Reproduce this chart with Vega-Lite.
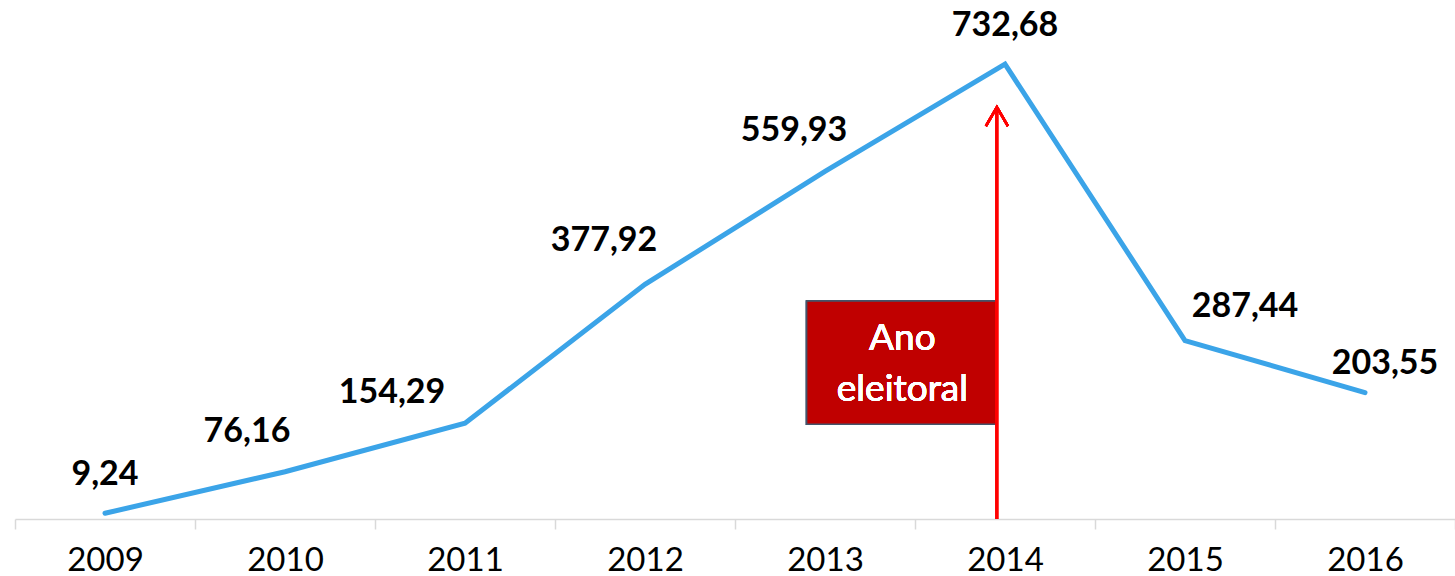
{
  "$schema": "https://vega.github.io/schema/vega-lite/v6.json",
  "width": 1440,
  "height": 519,
  "autosize": {"type": "none"},
  "padding": {"left": 15, "top": 0, "right": 0, "bottom": 57},
  "background": "white",
  "config": {
    "view": {"stroke": null},
    "font": "Lato",
    "locale": {"number": {"decimal": ",", "thousands": ".", "grouping": [3], "currency": ["R$", ""]}}
  },
  "data": {
    "values": [
      {"year": "2009", "value": 9.24},
      {"year": "2010", "value": 76.16},
      {"year": "2011", "value": 154.29},
      {"year": "2012", "value": 377.92},
      {"year": "2013", "value": 559.93},
      {"year": "2014", "value": 732.68},
      {"year": "2015", "value": 287.44},
      {"year": "2016", "value": 203.55}
    ]
  },
  "layer": [
    {
      "layer": [
        {
          "mark": {"type": "line", "color": "#3BA4E8", "strokeWidth": 5, "strokeCap": "round"},
          "encoding": {
            "x": {
              "field": "year", "type": "ordinal",
              "scale": {"paddingInner": 0, "paddingOuter": 0},
              "axis": {
                "title": null, "grid": false, "labelAngle": 0,
                "domainColor": "#D9D9D9", "domainWidth": 1.5,
                "tickColor": "#D9D9D9", "tickWidth": 1.5, "tickSize": 10, "tickBand": "extent",
                "labelFont": "Lato", "labelFontSize": 33, "labelColor": "#000000", "labelPadding": 15
              }
            },
            "y": {"field": "value", "type": "quantitative", "scale": {"domain": [0, 836], "nice": false}, "axis": null}
          }
        },
        {"transform": [{"filter": "datum.year == '2009'"}], "mark": {"type": "text", "font": "Lato", "fontSize": 34, "fontWeight": "bold", "color": "#000000", "align": "center", "baseline": "middle", "dx": 0, "dy": -38},
          "encoding": {"x": {"field": "year", "type": "ordinal"}, "y": {"field": "value", "type": "quantitative"}, "text": {"field": "value", "type": "quantitative", "format": ".2f"}}},
        {"transform": [{"filter": "datum.year == '2010'"}], "mark": {"type": "text", "font": "Lato", "fontSize": 34, "fontWeight": "bold", "color": "#000000", "align": "center", "baseline": "middle", "dx": -38, "dy": -40},
          "encoding": {"x": {"field": "year", "type": "ordinal"}, "y": {"field": "value", "type": "quantitative"}, "text": {"field": "value", "type": "quantitative", "format": ".2f"}}},
        {"transform": [{"filter": "datum.year == '2011'"}], "mark": {"type": "text", "font": "Lato", "fontSize": 34, "fontWeight": "bold", "color": "#000000", "align": "center", "baseline": "middle", "dx": -73, "dy": -30},
          "encoding": {"x": {"field": "year", "type": "ordinal"}, "y": {"field": "value", "type": "quantitative"}, "text": {"field": "value", "type": "quantitative", "format": ".2f"}}},
        {"transform": [{"filter": "datum.year == '2012'"}], "mark": {"type": "text", "font": "Lato", "fontSize": 34, "fontWeight": "bold", "color": "#000000", "align": "center", "baseline": "middle", "dx": -41, "dy": -43},
          "encoding": {"x": {"field": "year", "type": "ordinal"}, "y": {"field": "value", "type": "quantitative"}, "text": {"field": "value", "type": "quantitative", "format": ".2f"}}},
        {"transform": [{"filter": "datum.year == '2013'"}], "mark": {"type": "text", "font": "Lato", "fontSize": 34, "fontWeight": "bold", "color": "#000000", "align": "center", "baseline": "middle", "dx": -31, "dy": -40},
          "encoding": {"x": {"field": "year", "type": "ordinal"}, "y": {"field": "value", "type": "quantitative"}, "text": {"field": "value", "type": "quantitative", "format": ".2f"}}},
        {"transform": [{"filter": "datum.year == '2014'"}], "mark": {"type": "text", "font": "Lato", "fontSize": 34, "fontWeight": "bold", "color": "#000000", "align": "center", "baseline": "middle", "dx": 0, "dy": -38},
          "encoding": {"x": {"field": "year", "type": "ordinal"}, "y": {"field": "value", "type": "quantitative"}, "text": {"field": "value", "type": "quantitative", "format": ".2f"}}},
        {"transform": [{"filter": "datum.year == '2015'"}], "mark": {"type": "text", "font": "Lato", "fontSize": 34, "fontWeight": "bold", "color": "#000000", "align": "center", "baseline": "middle", "dx": 60, "dy": -34},
          "encoding": {"x": {"field": "year", "type": "ordinal"}, "y": {"field": "value", "type": "quantitative"}, "text": {"field": "value", "type": "quantitative", "format": ".2f"}}},
        {"transform": [{"filter": "datum.year == '2016'"}], "mark": {"type": "text", "font": "Lato", "fontSize": 34, "fontWeight": "bold", "color": "#000000", "align": "center", "baseline": "middle", "dx": 20, "dy": -29},
          "encoding": {"x": {"field": "year", "type": "ordinal"}, "y": {"field": "value", "type": "quantitative"}, "text": {"field": "value", "type": "quantitative", "format": ".2f"}}}
      ]
    },
    {
      "layer": [
        {
          "mark": {"type": "rect", "fill": "#C00000", "stroke": "#44546A", "strokeWidth": 1.5},
          "encoding": {
            "x": {"datum": 2012.898, "type": "quantitative", "scale": {"domain": [2008.5, 2016.5], "nice": false, "zero": false}, "axis": null},
            "x2": {"datum": 2013.955},
            "y": {"datum": 152.6, "type": "quantitative"},
            "y2": {"datum": 351.3}
          }
        },
        {
          "mark": {"type": "text", "text": ["Ano", "eleitoral"], "color": "#FFFFFF", "font": "Lato", "fontSize": 37, "lineHeight": 51, "align": "center", "baseline": "alphabetic"},
          "encoding": {
            "x": {"datum": 2013.43, "type": "quantitative"},
            "y": {"datum": 271.8, "type": "quantitative"}
          }
        },
        {
          "mark": {"type": "rule", "color": "#FF0000", "strokeWidth": 2.5},
          "encoding": {
            "x": {"datum": 2013.955, "type": "quantitative"},
            "y": {"datum": 0, "type": "quantitative"},
            "y2": {"datum": 663.4}
          }
        },
        {
          "mark": {"type": "point", "shape": "M-0.58,1L0,0L0.58,1", "size": 1444, "filled": false, "stroke": "#FF0000", "strokeWidth": 2.5, "opacity": 1},
          "encoding": {
            "x": {"datum": 2013.955, "type": "quantitative"},
            "y": {"datum": 663.4, "type": "quantitative"}
          }
        }
      ]
    }
  ],
  "resolve": {"scale": {"x": "independent"}}
}
